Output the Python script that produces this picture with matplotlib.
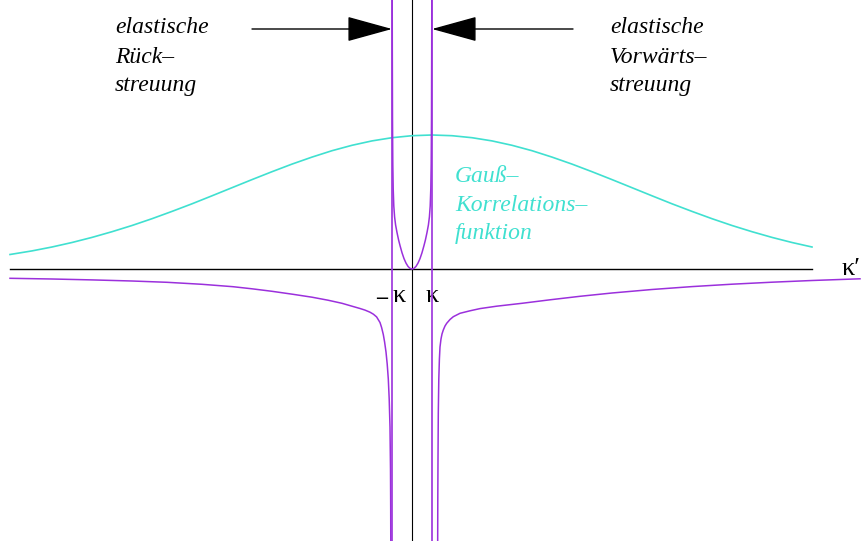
import matplotlib
matplotlib.use("Agg")
import matplotlib.pyplot as plt

# kappa' measured in units of the wave number K
K = 1.0

# Gaussian correlation function (centred near kappa' = K)
gauss_k = [-20.1, -19, -18, -17, -16, -15, -14, -13, -12, -11, -10, -9, -8, -7,
           -6, -5, -4, -3, -2, -1, 0, 1, 2, 3, 4, 5, 6, 7, 8, 9, 10, 11, 12,
           13, 14, 15, 16, 17, 18, 19, 20]
gauss_v = [14.5, 18.1, 22.0, 26.5, 31.6, 37.3, 43.5, 50.3, 57.6, 65.2, 73.2,
           81.3, 89.4, 97.3, 104.9, 111.9, 118.3, 123.7, 128.1, 131.3, 133.3,
           134.0, 133.3, 131.3, 128.1, 123.7, 118.3, 111.9, 104.9, 97.3, 89.4,
           81.3, 73.2, 65.2, 57.6, 50.3, 43.5, 37.3, 31.6, 26.5, 22.0]

# scattering kernel: branch between the poles
inner_k = [-0.992, -0.985, -0.975, -0.96, -0.94, -0.91, -0.87, -0.82, -0.75,
           -0.67, -0.6, -0.5, -0.4, -0.3, -0.2, -0.1, 0.0, 0.1, 0.2, 0.3, 0.4,
           0.5, 0.6, 0.67, 0.75, 0.82, 0.87, 0.91, 0.94, 0.96, 0.975, 0.985,
           0.992]
inner_v = [300, 220, 150, 105, 80, 63, 52, 44, 36.5, 29, 23.5, 16.3, 10.4, 5.9,
           2.6, 0.65, 0.0, 0.65, 2.6, 5.9, 10.4, 16.3, 23.5, 29, 36.5, 44, 52,
           63, 80, 105, 150, 220, 300]

# backward branch (kappa' < -K)
left_k = [-20.1, -18, -16, -14, -12.25, -10.5, -8.95, -8.0, -7.0, -5.95, -5.0,
          -4.2, -3.5, -3.0, -2.6, -2.35, -2.1, -1.93, -1.77, -1.6, -1.52,
          -1.435, -1.37, -1.3, -1.24, -1.185, -1.14, -1.1, -1.075, -1.065,
          -1.06]
left_v = [-9.3, -10.0, -10.9, -12.0, -13.3, -15.3, -17.7, -19.8, -22.3, -25.3,
          -28.2, -31.2, -34.3, -37.2, -39.5, -41.1, -43.2, -45.2, -47.9, -53.5,
          -58.5, -65.5, -73.0, -83.0, -95.0, -110.0, -130.0, -158.0, -200.0,
          -240.0, -280.0]

# forward branch (kappa' > K)
right_k = [1.283, 1.29, 1.3, 1.315, 1.34, 1.37, 1.4, 1.45, 1.5, 1.565, 1.65,
           1.735, 1.9, 2.065, 2.4, 2.9, 3.4, 4.23, 5.5, 6.9, 8.4, 10, 12, 14,
           16, 18, 20, 22.4]
right_v = [-280.0, -230.0, -190.0, -144.0, -110.0, -90.0, -78.0, -70.0, -65.0,
           -61.0, -57.0, -54.3, -50.5, -47.7, -44.3, -41.8, -39.6, -37.2, -34.3,
           -30.8, -27.3, -24.0, -20.5, -17.6, -15.2, -13.2, -11.5, -9.8]

axis_k = [-20.1, 20.0]

PURPLE = "#9B30DC"
CYAN = "#40E0D0"
SERIF = ["Liberation Serif", "DejaVu Serif"]

fig = plt.figure(figsize=(8.65, 5.41), dpi=100)
ax = fig.add_axes([0, 0, 1, 1])
ax.set_xlim(-20.6, 22.65)
ax.set_ylim(-272, 269)
ax.axis("off")

# axes of the diagram
ax.plot(axis_k, [0, 0], color="black", lw=1.0, zorder=2)
ax.axvline(0, color="black", lw=0.8, zorder=2)

# Gaussian
ax.plot(gauss_k, gauss_v, color=CYAN, lw=1.2, zorder=3)

# kernel with its poles at +/-K
ax.axvline(-K, color=PURPLE, lw=1.2, zorder=4)
ax.axvline(K, color=PURPLE, lw=1.2, zorder=4)
for ks, vs in ((inner_k, inner_v), (left_k, left_v), (right_k, right_v)):
    ax.plot(ks, vs, color=PURPLE, lw=1.1, zorder=4, solid_joinstyle="round")

# arrows pointing at the poles
arrow_y = 240
arrow_style = "-|>,head_length=1.45,head_width=0.4"
ax.annotate("", xy=(-K, arrow_y), xytext=(-8.0, arrow_y),
            arrowprops=dict(arrowstyle=arrow_style, mutation_scale=20,
                            color="black", lw=1.0, shrinkA=0, shrinkB=0))
ax.annotate("", xy=(K, arrow_y), xytext=(8.05, arrow_y),
            arrowprops=dict(arrowstyle=arrow_style, mutation_scale=20,
                            color="black", lw=1.0, shrinkA=0, shrinkB=0))

def block(x, baselines, lines, color):
    for yb, s in zip(baselines, lines):
        ax.text(x, yb, s, family=SERIF, style="italic", fontsize=17,
                color=color, ha="left", va="baseline", zorder=5)

block(-14.85, [236, 206, 178], ["elastische", "Rück–", "streuung"], "black")
block(9.9, [236, 206, 178], ["elastische", "Vorwärts–", "streuung"], "black")
block(2.15, [87, 58, 30], ["Gauß–", "Korrelations–", "funktion"], CYAN)

# axis labels
ax.text(-K - 0.5, -30, "−", family=["DejaVu Sans"], fontsize=13,
        ha="center", va="center")
ax.text(-K + 0.35, -27, "κ", family=SERIF, fontsize=19, ha="center",
        va="center")
ax.text(K, -27, "κ", family=SERIF, fontsize=19, ha="center", va="center")
ax.text(21.95, 0, "κ′", family=SERIF, fontsize=19, ha="center", va="center")

fig.savefig("out.png", dpi=100)
